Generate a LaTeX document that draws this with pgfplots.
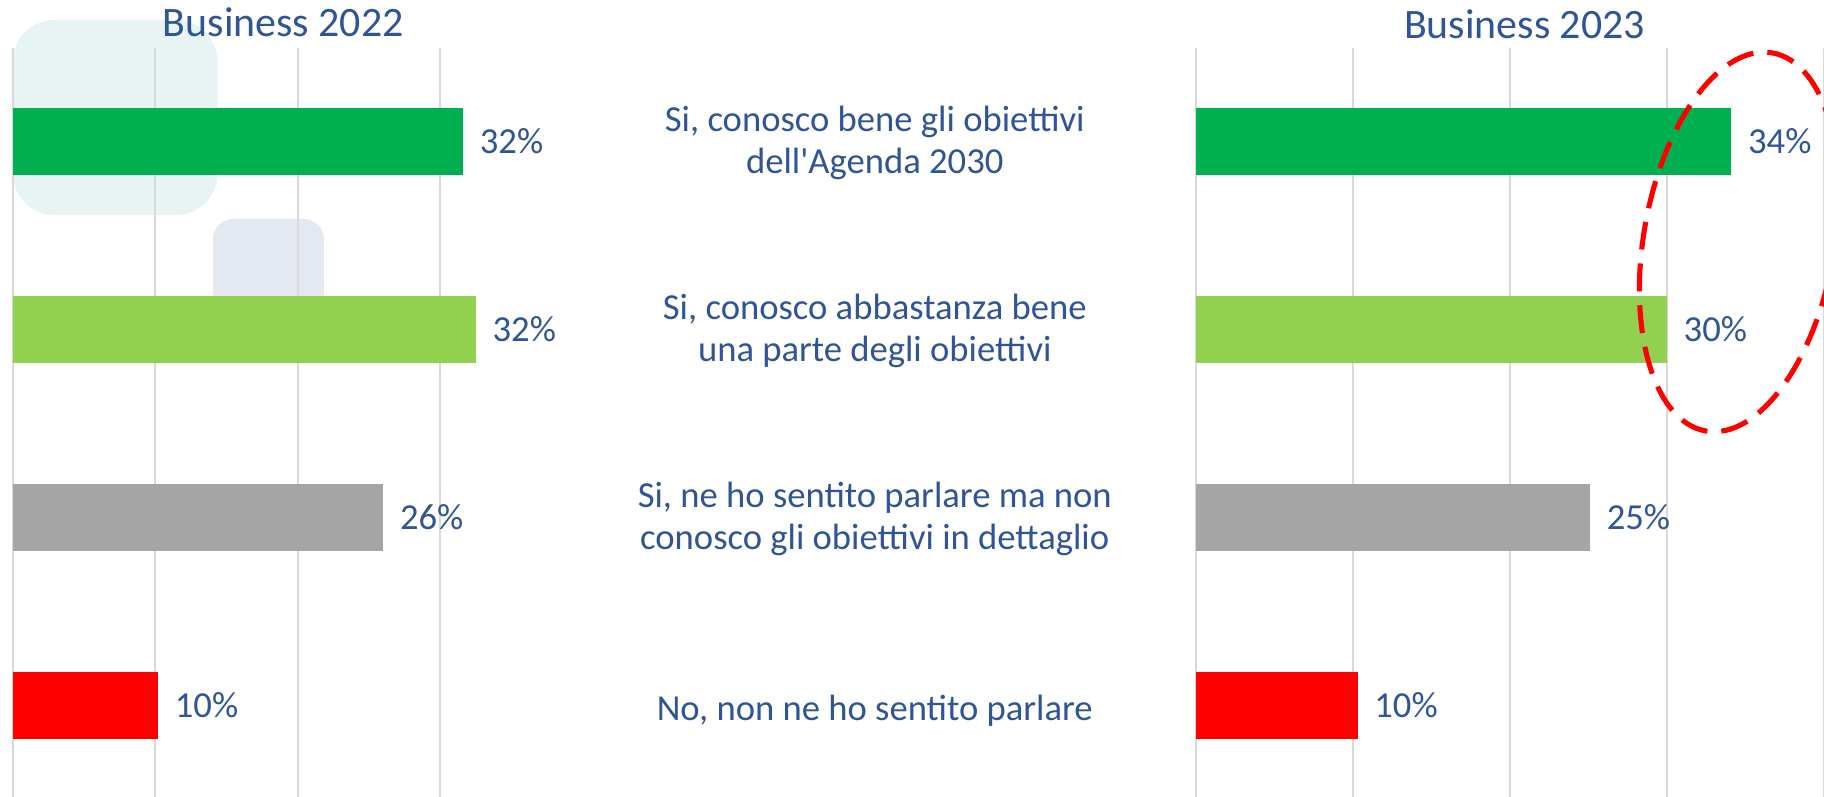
\documentclass[border=0pt]{standalone}
\usepackage{fontspec}
\setmainfont{Carlito}[Ligatures=TeXOff]
\usepackage{pgfplots}
\pgfplotsset{compat=1.18}
\definecolor{txtblue}{HTML}{2F5597}
\definecolor{dgreen}{HTML}{00B050}
\definecolor{lgreen}{HTML}{92D050}
\definecolor{bgray}{HTML}{A5A5A5}
\definecolor{gridgray}{HTML}{D9D9D9}
\definecolor{teal0}{HTML}{E8F4F4}
\definecolor{lav}{HTML}{E4E8F1}
\pgfplotsset{
  panel/.style={
    anchor=south west, scale only axis, height=323pt,
    xmin=0, xmax=40, ymin=-0.5, ymax=3.5, y dir=reverse,
    xticklabels={}, ytick=\empty,
    xmajorgrids, grid style={gridgray, line width=0.8pt},
    axis line style={draw=none}, major tick style={draw=none},
    xbar, bar width=28.75pt,
    point meta=explicit symbolic,
    nodes near coords,
    nodes near coords style={anchor=west, inner sep=0pt, xshift=7pt, text=txtblue,
      font=\fontsize{15.75}{18}\selectfont},
    clip=false,
  },
  onebar/.style={fill=#1, draw=none, /pgf/bar shift=0pt},
}
\begin{document}
\begin{tikzpicture}[x=1pt,y=1pt]
\useasboundingbox (0,0) rectangle (784,342.5);
% decorative background shapes
\fill[teal0, rounded corners=18pt] (5.5,250) rectangle (93.5,334);
\fill[lav, rounded corners=9pt] (91.5,197.5) rectangle (139.25,248.5);

% Business 2022
\begin{axis}[panel, at={(5.5pt,-1pt)}, width=245pt, xtick={0,10,20,30}]
\addplot[onebar=dgreen] coordinates {(31.6,0) [32\%]};
\addplot[onebar=lgreen] coordinates {(32.5,1) [32\%]};
\addplot[onebar=bgray]  coordinates {(26.0,2) [26\%]};
\addplot[onebar=red]    coordinates {(10.2,3) [10\%]};
\end{axis}

% Business 2023
\begin{axis}[panel, at={(514pt,-1pt)}, width=270pt, xtick={0,10,20,30,40}]
\addplot[onebar=dgreen] coordinates {(34.1,0) [34\%]};
\addplot[onebar=lgreen] coordinates {(30.0,1) [30\%]};
\addplot[onebar=bgray]  coordinates {(25.1,2) [25\%]};
\addplot[onebar=red]    coordinates {(10.3,3) [10\%]};
\end{axis}

% titles
\node[anchor=base, text=txtblue, inner sep=0pt, font=\fontsize{18}{21}\selectfont] at (121.75,327) {Business 2022};
\node[anchor=base, text=txtblue, inner sep=0pt, font=\fontsize{18}{21}\selectfont] at (655.25,326) {Business 2023};

% category labels
\begin{scope}[every node/.style={anchor=base, text=txtblue, inner sep=0pt, font=\fontsize{15.75}{18}\selectfont}]
\node at (376,286) {Si, conosco bene gli obiettivi};
\node at (376,268) {dell'Agenda 2030};
\node at (376,205.25) {Si, conosco abbastanza bene};
\node at (376,187.25) {una parte degli obiettivi};
\node at (376,124.5) {Si, ne ho sentito parlare ma non};
\node at (376,106.5) {conosco gli obiettivi in dettaglio};
\node at (376,33) {No, non ne ho sentito parlare};
\end{scope}

% highlight ellipse
\draw[red, line width=2.2pt, dash pattern=on 12pt off 6pt, rotate around={-10:(747.5,238.5)}]
  (747.5,238.5) ellipse [x radius=41, y radius=82.5];
\end{tikzpicture}
\end{document}
